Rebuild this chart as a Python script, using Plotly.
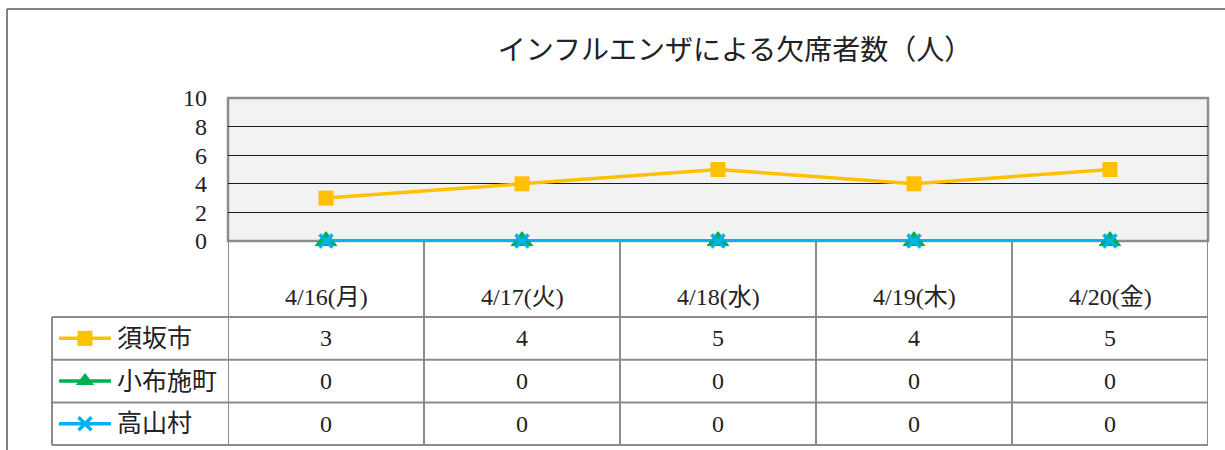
import plotly.graph_objects as go

# Absences due to influenza, per day and per municipality
categories = ["4/16(月)", "4/17(火)", "4/18(水)", "4/19(木)", "4/20(金)"]
series_names = ["須坂市", "小布施町", "高山村"]
suzaka = [3, 4, 5, 4, 5]
obuse = [0, 0, 0, 0, 0]
takayama = [0, 0, 0, 0, 0]
y_ticks = [0, 2, 4, 6, 8, 10]
title_text = "インフルエンザによる欠席者数（人）"

series_values = [suzaka, obuse, takayama]
colors = ["#FFC000", "#00B050", "#00B0F0"]
symbols = ["square", "triangle-up", "x-thin"]
marker_sizes = [15, 20, 13]

W, H = 1225, 450
FONT = "'Liberation Serif', 'Noto Sans CJK JP', serif"
GRID_GRAY = "#8c8c8c"
TEXT = "#222222"

def px(x):
    return x / W

def py(y):
    return 1 - y / H

# plot area and data-table geometry (pixels)
PL, PR, PT, PB = 228, 1208, 98, 241
TABLE_TOP = 317
ROW_H = 42.7
LEGEND_LEFT = 52
TABLE_BOTTOM = TABLE_TOP + ROW_H * 3

def make_marker(sym, size, col):
    m = dict(symbol=sym, size=size, color=col)
    if sym == "x-thin":
        m["line"] = dict(color=col, width=3.5)
    return m

fig = go.Figure()

for name, vals, col, sym, ms in zip(series_names, series_values, colors, symbols, marker_sizes):
    fig.add_trace(go.Scatter(
        x=categories, y=vals, name=name, mode="lines+markers",
        line=dict(color=col, width=3.5), marker=make_marker(sym, ms, col),
        cliponaxis=False, showlegend=False, xaxis="x", yaxis="y",
    ))

# legend keys in the table's first column (pixel-space helper axes)
for i, (name, col, sym, ms) in enumerate(zip(series_names, colors, symbols, marker_sizes)):
    cy = TABLE_TOP + ROW_H * (i + 0.5)
    fig.add_trace(go.Scatter(
        x=[59, 111], y=[cy, cy], mode="lines",
        line=dict(color=col, width=3.5),
        cliponaxis=False, showlegend=False, hoverinfo="skip",
        xaxis="x2", yaxis="y2",
    ))
    fig.add_trace(go.Scatter(
        x=[85], y=[cy], mode="markers",
        marker=make_marker(sym, 16 if sym == "triangle-up" else ms, col),
        cliponaxis=False, showlegend=False, hoverinfo="skip",
        xaxis="x2", yaxis="y2",
    ))

shapes = []
# plot area background
shapes.append(dict(type="rect", xref="paper", yref="paper",
                   x0=px(PL), x1=px(PR), y0=py(PT), y1=py(PB),
                   fillcolor="#f2f2f2", line=dict(width=0), layer="below"))
# outer chart frame (top and left edges are inside the view)
shapes.append(dict(type="line", xref="paper", yref="paper",
                   x0=px(7), x1=1, y0=py(9), y1=py(9),
                   line=dict(color="#595959", width=1.5), layer="below"))
shapes.append(dict(type="line", xref="paper", yref="paper",
                   x0=px(7), x1=px(7), y0=py(9), y1=0,
                   line=dict(color="#595959", width=1.5), layer="below"))
# plot area border
shapes.append(dict(type="rect", xref="paper", yref="paper",
                   x0=px(PL), x1=px(PR), y0=py(PT), y1=py(PB),
                   line=dict(color=GRID_GRAY, width=2.5), layer="between"))
# data table: vertical separators aligned with category boundaries
for k in range(len(categories) + 1):
    shapes.append(dict(type="line", xref="x", yref="paper",
                       x0=k - 0.5, x1=k - 0.5, y0=py(PB), y1=py(TABLE_BOTTOM),
                       line=dict(color=GRID_GRAY, width=2), layer="below"))
# data table: horizontal row lines
for r in range(4):
    yy = TABLE_TOP + ROW_H * r
    shapes.append(dict(type="line", xref="paper", yref="paper",
                       x0=px(LEGEND_LEFT), x1=px(PR), y0=py(yy), y1=py(yy),
                       line=dict(color=GRID_GRAY, width=2), layer="below"))
# legend column left edge
shapes.append(dict(type="line", xref="paper", yref="paper",
                   x0=px(LEGEND_LEFT), x1=px(LEGEND_LEFT),
                   y0=py(TABLE_TOP), y1=py(TABLE_BOTTOM),
                   line=dict(color=GRID_GRAY, width=2), layer="below"))

annotations = []
# category header row
for c in categories:
    annotations.append(dict(x=c, xref="x", y=py(297), yref="paper",
                            xanchor="center", yanchor="middle",
                            text=c, showarrow=False,
                            font=dict(family=FONT, size=24, color=TEXT)))
# table values and series names
for i, vals in enumerate(series_values):
    cy = TABLE_TOP + ROW_H * (i + 0.5)
    for c, v in zip(categories, vals):
        annotations.append(dict(x=c, xref="x", y=py(cy), yref="paper",
                                xanchor="center", yanchor="middle",
                                text=str(v), showarrow=False,
                                font=dict(family=FONT, size=24, color=TEXT)))
    annotations.append(dict(x=px(115), xref="paper", y=py(cy), yref="paper",
                            xanchor="left", yanchor="middle",
                            text=series_names[i], showarrow=False,
                            font=dict(family=FONT, size=25, color=TEXT)))

fig.update_layout(
    width=W, height=H, autosize=False,
    margin=dict(l=0, r=0, t=0, b=0, pad=0),
    paper_bgcolor="white",
    plot_bgcolor="rgba(0,0,0,0)",
    title=dict(text=title_text, x=px(735), xanchor="center",
               y=py(50), yanchor="middle", automargin=False,
               font=dict(family=FONT, size=28, color=TEXT)),
    xaxis=dict(domain=[px(PL), px(PR)], type="category",
               range=[-0.5, len(categories) - 0.5], automargin=False,
               showticklabels=False, showgrid=False, zeroline=False,
               showline=False, ticks=""),
    yaxis=dict(domain=[py(PB), py(PT)], range=[0, 10], automargin=False,
               tickvals=y_ticks, showgrid=True, gridcolor="#1a1a1a",
               gridwidth=1, zeroline=False, showline=False, ticks="",
               ticklabelstandoff=20,
               tickfont=dict(family=FONT, size=24, color=TEXT)),
    xaxis2=dict(domain=[0, 1], range=[0, W], visible=False,
                anchor="y2", automargin=False, fixedrange=True),
    yaxis2=dict(domain=[0, 1], range=[H, 0], visible=False,
                anchor="x2", automargin=False, fixedrange=True),
    shapes=shapes,
    annotations=annotations,
    showlegend=False,
)

fig.write_html("out.html")
